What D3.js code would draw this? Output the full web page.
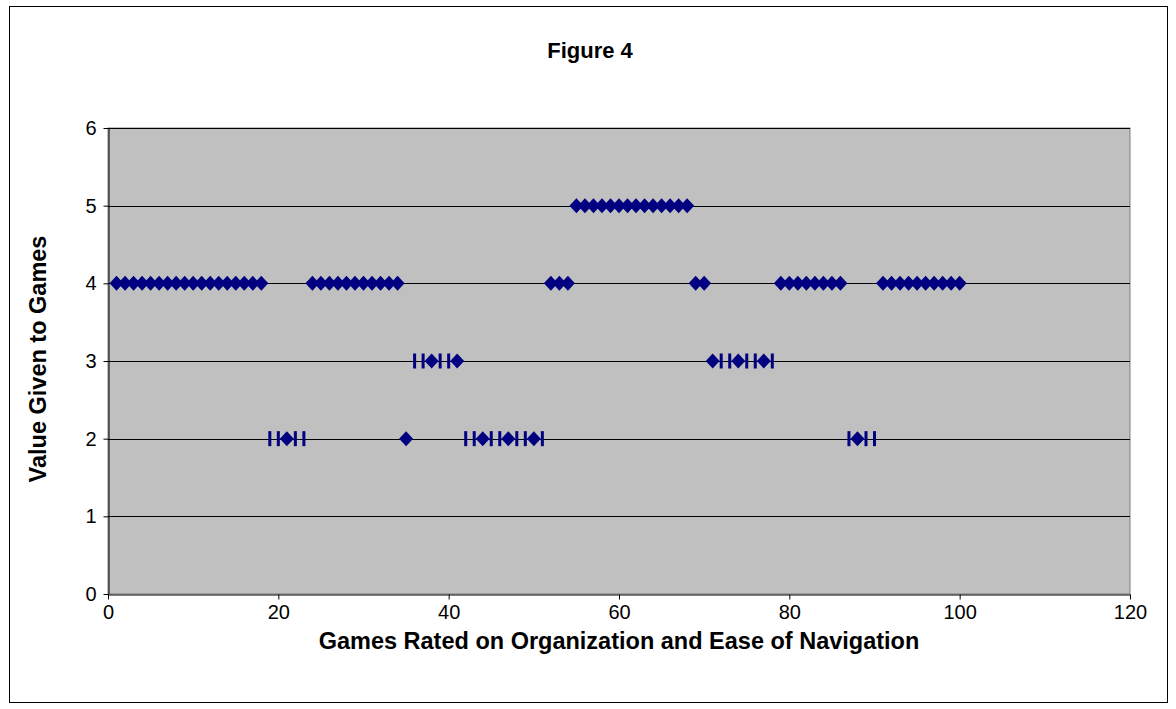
<!DOCTYPE html>
<html>
<head>
<meta charset="utf-8">
<script src="https://cdn.jsdelivr.net/npm/d3@7"></script>
<style>
  html, body { margin: 0; padding: 0; background: #fff; }
  svg text { font-family: Arial, "Liberation Sans", sans-serif; }
</style>
</head>
<body>
<svg id="chart" width="1176" height="709"></svg>
<script>
// Ratings per game: game number (x) and value given (y)
const games = d3.range(1, 101);
const ratings = [
  4,4,4,4,4,4,4,4,4,4, 4,4,4,4,4,4,4,4,2,2,   // 1-20
  2,2,2,4,4,4,4,4,4,4, 4,4,4,4,2,3,3,3,3,3,   // 21-40
  3,2,2,2,2,2,2,2,2,2, 2,4,4,4,5,5,5,5,5,5,   // 41-60
  5,5,5,5,5,5,5,5,4,4, 3,3,3,3,3,3,3,3,4,4,   // 61-80
  4,4,4,4,4,4,2,2,2,2, 4,4,4,4,4,4,4,4,4,4    // 81-100
];
// Marker shape per game: "d" = diamond, "b" = narrow bar
const markerShapes = [
  "d","d","d","d","d","d","d","d","d","d", "d","d","d","d","d","d","d","d","b","b",
  "d","b","b","d","d","d","d","d","d","d", "d","d","d","d","d","b","b","d","b","b",
  "d","b","b","d","b","b","d","b","b","d", "b","d","d","d","d","d","d","d","d","d",
  "d","d","d","d","d","d","d","d","d","d", "d","b","b","d","b","b","d","b","d","d",
  "d","d","d","d","d","d","b","d","b","b", "d","d","d","d","d","d","d","d","d","d"
];
const xTicks = [0, 20, 40, 60, 80, 100, 120];
const yTicks = [0, 1, 2, 3, 4, 5, 6];

const chartTitle = "Figure 4";
const xTitle = "Games Rated on Organization and Ease of Navigation";
const yTitle = "Value Given to Games";

const svg = d3.select("#chart");
const plot = { left: 108, top: 128, right: 1130, bottom: 594 };

const x = d3.scaleLinear().domain([0, 120]).range([plot.left, plot.right]);
const y = d3.scaleLinear().domain([0, 6]).range([plot.bottom, plot.top]);

// Outer chart border
svg.append("rect")
  .attr("x", 9.5).attr("y", 6.5)
  .attr("width", 1158).attr("height", 696)
  .attr("fill", "#fff").attr("stroke", "#000").attr("stroke-width", 1);

// Title
svg.append("text")
  .attr("x", 590).attr("y", 58)
  .attr("text-anchor", "middle")
  .attr("font-size", 22).attr("font-weight", "bold")
  .text(chartTitle);

// Plot area
svg.append("rect")
  .attr("x", plot.left).attr("y", plot.top)
  .attr("width", plot.right - plot.left).attr("height", plot.bottom - plot.top)
  .attr("fill", "#c0c0c0").attr("stroke", "#808080").attr("stroke-width", 1);

// Horizontal gridlines
svg.append("g")
  .selectAll("line")
  .data(yTicks.filter(v => v > 0))
  .join("line")
  .attr("x1", plot.left).attr("x2", plot.right)
  .attr("y1", d => Math.round(y(d)) + 0.5).attr("y2", d => Math.round(y(d)) + 0.5)
  .attr("stroke", "#000").attr("stroke-width", 1);

// Axes
const xAxis = d3.axisBottom(x).tickValues(xTicks).tickFormat(d3.format("d"))
  .tickSizeInner(5).tickSizeOuter(0).tickPadding(5);
const yAxis = d3.axisLeft(y).tickValues(yTicks).tickFormat(d3.format("d"))
  .tickSizeInner(5).tickSizeOuter(0).tickPadding(7);

const gx = svg.append("g")
  .attr("transform", `translate(0,${plot.bottom + 0.5})`)
  .call(xAxis);
const gy = svg.append("g")
  .attr("transform", `translate(${plot.left + 0.5},0)`)
  .call(yAxis);

[gx, gy].forEach(g => {
  g.select(".domain").attr("stroke", "#000");
  g.selectAll(".tick line").attr("stroke", "#000");
  g.selectAll(".tick text")
    .attr("font-size", 20)
    .attr("fill", "#000")
    .attr("font-family", "Arial, 'Liberation Sans', sans-serif");
});

// Axis titles
svg.append("text")
  .attr("x", (plot.left + plot.right) / 2).attr("y", 649)
  .attr("text-anchor", "middle")
  .attr("font-size", 23.5).attr("font-weight", "bold")
  .text(xTitle);

svg.append("text")
  .attr("transform", `translate(46,${(plot.top + plot.bottom) / 2 - 2}) rotate(-90)`)
  .attr("text-anchor", "middle")
  .attr("font-size", 23.5).attr("font-weight", "bold")
  .text(yTitle);

// Markers
const points = games.map((g, i) => ({ x: g, y: ratings[i], shape: markerShapes[i] }));
const markerColor = "#000080";
const dHalfW = 7, dHalfH = 7.5;

const marks = svg.append("g");
marks.selectAll("path.diamond")
  .data(points.filter(p => p.shape === "d"))
  .join("path")
  .attr("class", "diamond")
  .attr("d", p => {
    const cx = x(p.x), cy = y(p.y);
    return `M${cx - dHalfW},${cy}L${cx},${cy - dHalfH}L${cx + dHalfW},${cy}L${cx},${cy + dHalfH}Z`;
  })
  .attr("fill", markerColor);

marks.selectAll("rect.bar")
  .data(points.filter(p => p.shape === "b"))
  .join("rect")
  .attr("class", "bar")
  .attr("x", p => x(p.x) - 1.5)
  .attr("y", p => y(p.y) - dHalfH)
  .attr("width", 3)
  .attr("height", dHalfH * 2)
  .attr("fill", markerColor);
</script>
</body>
</html>
